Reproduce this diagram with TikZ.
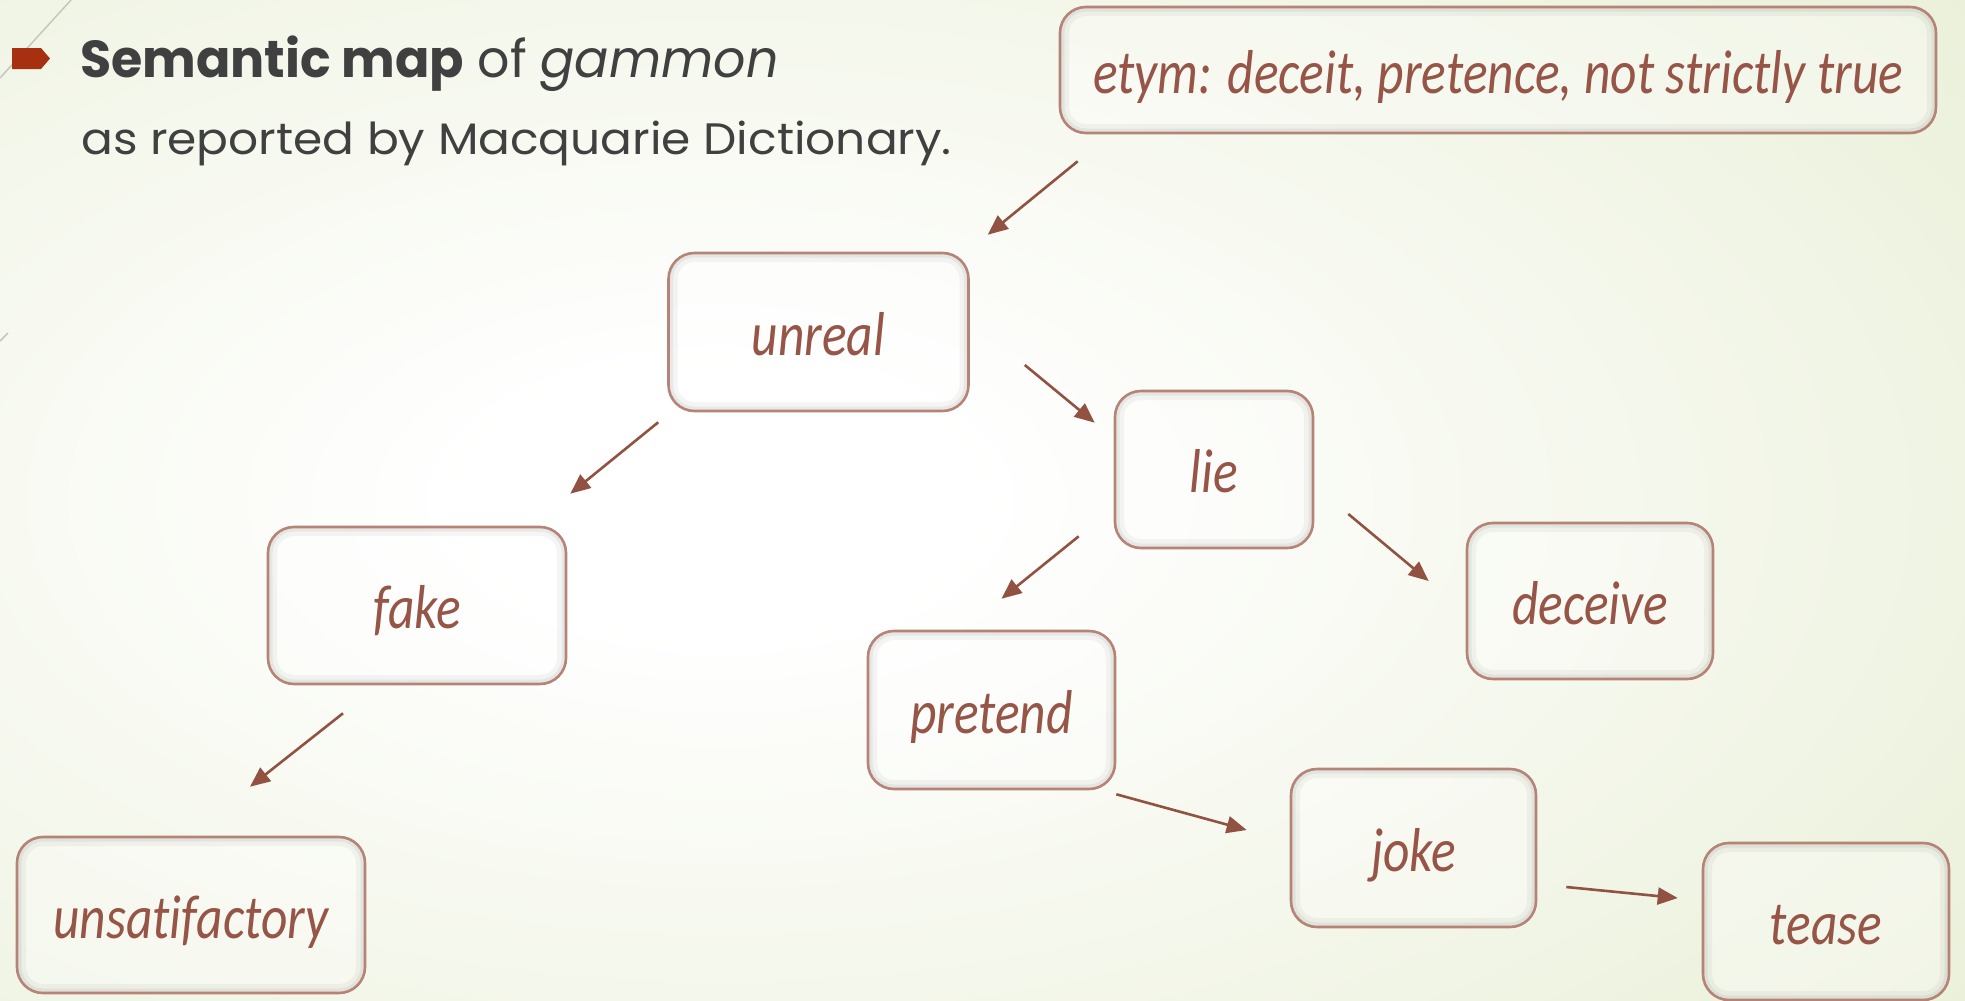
\documentclass[tikz,border=0pt]{standalone}
\usepackage{fontspec}
\setmainfont{Poppins}
\newfontfamily\boxfont{Carlito}[FakeStretch=0.83,Ligatures=NoCommon]
\newfontfamily\titleA{Poppins}[FakeStretch=0.975]
\newfontfamily\titleB{Poppins}[FakeStretch=1.07]
\usetikzlibrary{arrows.meta,calc}
\definecolor{bggreen}{RGB}{220,230,192}
\definecolor{boxline}{RGB}{182,132,118}
\definecolor{txtbrown}{RGB}{150,85,70}
\definecolor{arrbrown}{RGB}{145,82,66}
\definecolor{bulletred}{RGB}{166,48,16}
\definecolor{titlegray}{RGB}{64,64,64}
\definecolor{decor}{RGB}{196,200,186}
\pgfdeclareradialshading{bgshade}{\pgfpoint{0bp}{0bp}}{color(0bp)=(white); color(5bp)=(white); color(50bp)=(bggreen); color(80bp)=(bggreen)}
\begin{document}
\begin{tikzpicture}[x=1pt,y=-1pt,
  box/.style={draw=boxline, line width=2.6pt, rounded corners=26pt,
    fill=white, fill opacity=0.35, text opacity=1,
    font=\boxfont\itshape\fontsize{62}{66}\selectfont, text=txtbrown,
    text height=46pt, text depth=0pt, inner sep=0pt,
    path picture={
      \draw[black, draw opacity=0.04, line width=18pt]
        (path picture bounding box.south west) rectangle (path picture bounding box.north east);
      \draw[black, draw opacity=0.05, line width=9pt]
        (path picture bounding box.south west) rectangle (path picture bounding box.north east);
    }},
  arr/.style={draw=arrbrown, line width=2.6pt, -{Triangle[length=20pt,width=17pt]}},
  titletext/.style={anchor=base west, inner sep=0pt, text=titlegray}
]
\useasboundingbox (0,0) rectangle (1965,1001);
\begin{scope}
\clip (0,0) rectangle (1965,1001);
\shade[shading=bgshade] (-525,-150) rectangle (1965,1150);
\end{scope}
% theme decoration
\draw[decor, line width=1.5pt] (0,78) -- (71,0);
\draw[decor, line width=1.5pt] (0,341) -- (8,333);
% bullet
\fill[bulletred] (12,48) -- (41,48) -- (50,58.5) -- (41,69) -- (12,69) -- cycle;
% title
\node[titletext, font=\titleA\fontsize{52}{60}\selectfont] (title1) at (80,77) {\textbf{Semantic map} of \textit{gammon}};
\node[titletext, font=\titleB\fontsize{44}{50}\selectfont] (title2) at (81,154) {as reported by Macquarie Dictionary.};
% boxes
\node[box, minimum width=876pt, minimum height=126pt] (etym) at (1498,70) {etym: deceit, pretence, not strictly true};
\node[box, minimum width=300pt, minimum height=158pt] (unreal) at (818.5,332) {unreal};
\node[box, minimum width=198pt, minimum height=157pt] (lie) at (1214,469.5) {lie};
\node[box, minimum width=298pt, minimum height=157pt] (fake) at (417,605.5) {fake};
\node[box, minimum width=246pt, minimum height=156pt] (deceive) at (1590,601) {deceive};
\node[box, minimum width=247pt, minimum height=158pt] (pretend) at (991.5,710) {pretend};
\node[box, minimum width=245pt, minimum height=158pt] (joke) at (1413.5,848) {joke};
\node[box, minimum width=348pt, minimum height=156pt] (unsat) at (191,915) {unsatifactory};
\node[box, minimum width=246pt, minimum height=157pt] (tease) at (1826,921.5) {tease};
% arrows
\draw[arr] ([shift={(19,27)}]etym.south west) -- ([shift={(18,-17)}]unreal.north east);
\draw[arr] ([shift={(-9,10)}]unreal.south west) -- ([shift={(3,-32)}]fake.north east);
\draw[arr] ([shift={(55,33)}]unreal.east) -- ([shift={(-19,33)}]lie.north west);
\draw[arr] ([shift={(-35,-13)}]lie.south west) -- ([shift={(10,-31)}]pretend.north);
\draw[arr] ([shift={(34,44.5)}]lie.east) -- ([shift={(-37,-20)}]deceive.west);
\draw[arr] ([shift={(-74,28)}]fake.south) -- ([shift={(59,-49)}]unsat.north);
\draw[arr] ([shift={(0,4)}]pretend.south east) -- ([shift={(-43,-18)}]joke.west);
\draw[arr] ([shift={(29,39)}]joke.east) -- ([shift={(-24,-23.5)}]tease.west);
\end{tikzpicture}
\end{document}
